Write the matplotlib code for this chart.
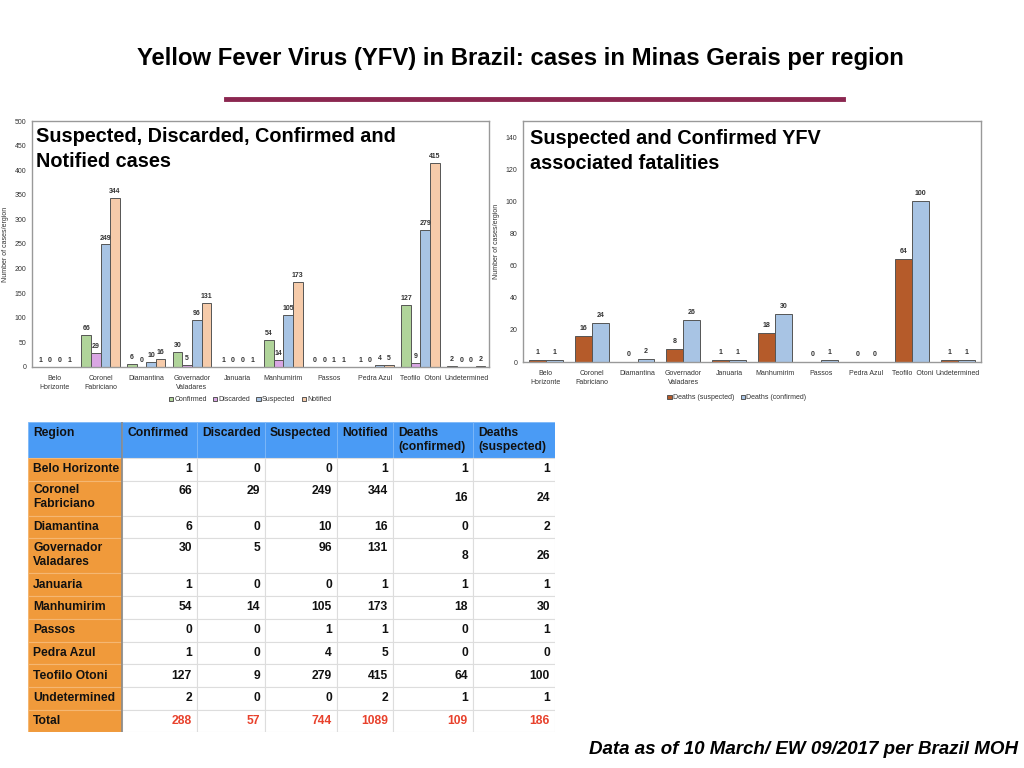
import matplotlib
matplotlib.use("Agg")
import matplotlib.pyplot as plt
from matplotlib.patches import Rectangle
import numpy as np

plt.rcParams['font.family'] = ['Liberation Sans', 'DejaVu Sans']

regions = ["Belo Horizonte", "Coronel Fabriciano", "Diamantina", "Governador Valadares",
           "Januaria", "Manhumirim", "Passos", "Pedra Azul", "Teofilo Otoni", "Undetermined"]
tick_labels = ["Belo\nHorizonte", "Coronel\nFabriciano", "Diamantina", "Governador\nValadares",
               "Januaria", "Manhumirim", "Passos", "Pedra Azul", "Teofilo  Otoni", "Undetermined"]
table_names = ["Belo Horizonte", "Coronel\nFabriciano", "Diamantina", "Governador\nValadares",
               "Januaria", "Manhumirim", "Passos", "Pedra Azul", "Teofilo Otoni", "Undetermined"]

confirmed = [1, 66, 6, 30, 1, 54, 0, 1, 127, 2]
discarded = [0, 29, 0, 5, 0, 14, 0, 0, 9, 0]
suspected = [0, 249, 10, 96, 0, 105, 1, 4, 279, 0]
notified = [1, 344, 16, 131, 1, 173, 1, 5, 415, 2]
deaths_susp_chart = [1, 16, 0, 8, 1, 18, 0, 0, 64, 1]
deaths_conf_chart = [1, 24, 2, 26, 1, 30, 1, 0, 100, 1]
# table columns as printed in the source table
deaths_conf_tab = [1, 16, 0, 8, 1, 18, 0, 0, 64, 1]
deaths_susp_tab = [1, 24, 2, 26, 1, 30, 1, 0, 100, 1]

W, H = 1024, 768
fig = plt.figure(figsize=(10.24, 7.68), dpi=100)

def px_axes(x0, y0, x1, y1):
    return fig.add_axes([x0 / W, 1 - y1 / H, (x1 - x0) / W, (y1 - y0) / H])

fig.text(520 / W, 1 - 58 / H, "Yellow Fever Virus (YFV) in Brazil: cases in Minas Gerais per region",
         ha='center', va='center', fontsize=17.2, fontweight='bold')
fig.add_artist(plt.Line2D([226 / W, 843 / W], [1 - 99 / H, 1 - 99 / H], color='#8B2750', lw=3.5))
fig.text(1018 / W, 1 - 750 / H, "Data as of 10 March/ EW 09/2017 per Brazil MOH",
         ha='right', va='center', fontsize=13.5, fontweight='bold', style='italic')

lab_kw = dict(fontsize=5, fontweight='bold', color='#333333', ha='center', va='bottom')

def style_axes(ax, ymax, step):
    ax.set_ylim(0, ymax)
    ax.set_yticks(np.arange(0, ymax + 1, step))
    ax.set_xlim(-0.5, 9.5)
    ax.set_xticks(range(10))
    ax.set_xticklabels(tick_labels, fontsize=5, color='#333333', linespacing=1.3)
    ax.tick_params(axis='x', length=0, pad=6)
    ax.tick_params(axis='y', length=0, pad=4)
    ax.tick_params(axis='both', labelsize=5, colors='#333333')
    for s in ax.spines.values():
        s.set_color('#999999')
        s.set_linewidth(1)
    ax.set_ylabel("Number of cases/ergion", fontsize=5, color='#333333', labelpad=4)

# left chart
ax1 = px_axes(32, 121, 489, 367)
x = np.arange(10)
w = 0.21
series1 = [(confirmed, '#B0D49A', 'Confirmed'), (discarded, '#D9A6E3', 'Discarded'),
           (suspected, '#A8C4E4', 'Suspected'), (notified, '#F6CBAA', 'Notified')]
for k, (vals, col, name) in enumerate(series1):
    xs = x + (k - 1.5) * w
    ax1.bar(xs, vals, w, color=col, edgecolor='#555555', linewidth=0.7, label=name)
    for xi, v in zip(xs, vals):
        ax1.text(xi, v + 6, str(v), **lab_kw)
style_axes(ax1, 500, 50)
ax1.text(0.009, 0.975, "Suspected, Discarded, Confirmed and\nNotified cases", transform=ax1.transAxes,
         ha='left', va='top', fontsize=14.3, fontweight='bold', linespacing=1.4)
ax1.legend(loc='center', bbox_to_anchor=(0.477, -0.134), ncol=4, frameon=False, fontsize=5,
           handlelength=0.6, handleheight=0.6, handletextpad=0.2, columnspacing=0.9,
           labelcolor='#333333')

# right chart
ax2 = px_axes(523, 121, 981, 362)
w2 = 0.37
series2 = [(deaths_susp_chart, '#B55B2A', 'Deaths (suspected)'),
           (deaths_conf_chart, '#A8C4E4', 'Deaths (confirmed)')]
for k, (vals, col, name) in enumerate(series2):
    xs = x + (k - 0.5) * w2
    ax2.bar(xs, vals, w2, color=col, edgecolor='#555555', linewidth=0.7, label=name)
    for xi, v in zip(xs, vals):
        ax2.text(xi, v + 2.5, str(v), **lab_kw)
style_axes(ax2, 150, 20)
ax2.set_yticks(np.arange(0, 141, 20))
ax2.text(0.015, 0.965, "Suspected and Confirmed YFV\nassociated fatalities", transform=ax2.transAxes,
         ha='left', va='top', fontsize=14.3, fontweight='bold', linespacing=1.4)
ax2.legend(loc='center', bbox_to_anchor=(0.467, -0.149), ncol=2, frameon=False, fontsize=5,
           handlelength=0.6, handleheight=0.6, handletextpad=0.2, columnspacing=0.9,
           labelcolor='#333333')

# table
headers = ["Region", "Confirmed", "Discarded", "Suspected", "Notified", "Deaths\n(confirmed)", "Deaths\n(suspected)"]
totals = [sum(confirmed), sum(discarded), sum(suspected), sum(notified),
          sum(deaths_conf_tab), sum(deaths_susp_tab)]
col_edges = [28, 122, 197, 265, 337, 393, 473, 555]
T_TOP, T_BOT = 422, 732
axt = px_axes(col_edges[0], T_TOP, col_edges[-1], T_BOT)
axt.set_xlim(col_edges[0], col_edges[-1])
axt.set_ylim(T_BOT, T_TOP)
axt.axis('off')

header_h = 36
row_names = table_names + ["Total"]
row_vals = [list(r) for r in zip(confirmed, discarded, suspected, notified, deaths_conf_tab, deaths_susp_tab)]
row_vals.append(totals)
row_h = [35 if "\n" in n else 22.7 for n in row_names]

BLUE, ORANGE = '#4A9BF5', '#F09A3B'
fs = 8.7
# header
for c in range(7):
    x0, x1 = col_edges[c], col_edges[c + 1]
    axt.add_patch(Rectangle((x0, T_TOP), x1 - x0, header_h, facecolor=BLUE, edgecolor='#7DB8F8', lw=0.6))
    axt.text(x0 + 5, T_TOP + 5, headers[c], ha='left', va='top', fontsize=fs, fontweight='bold',
             color='#111111', linespacing=1.25)
y = T_TOP + header_h
for name, vals, h in zip(row_names, row_vals, row_h):
    axt.add_patch(Rectangle((col_edges[0], y), col_edges[1] - col_edges[0], h,
                            facecolor=ORANGE, edgecolor='#F5B772', lw=0.8))
    tall = "\n" in name
    if tall:
        axt.text(col_edges[0] + 5, y + 3.5, name, ha='left', va='top', fontsize=fs,
                 fontweight='bold', color='#111111', linespacing=1.25)
    else:
        axt.text(col_edges[0] + 5, y + h / 2, name, ha='left', va='center', fontsize=fs,
                 fontweight='bold', color='#111111')
    for c, v in enumerate(vals):
        x0, x1 = col_edges[c + 1], col_edges[c + 2]
        axt.add_patch(Rectangle((x0, y), x1 - x0, h, facecolor='white', edgecolor='#DDDDDD', lw=0.8))
        colr = '#E8412C' if name == "Total" else '#111111'
        if tall and c < 4:
            axt.text(x1 - 5, y + 10, str(v), ha='right', va='center', fontsize=fs,
                     fontweight='bold', color=colr)
        else:
            axt.text(x1 - 5, y + h / 2, str(v), ha='right', va='center', fontsize=fs,
                     fontweight='bold', color=colr)
    y += h
axt.plot([col_edges[1], col_edges[1]], [T_TOP, T_BOT], color='#8A8A8A', lw=1.2)

fig.savefig("out.png", dpi=100)
